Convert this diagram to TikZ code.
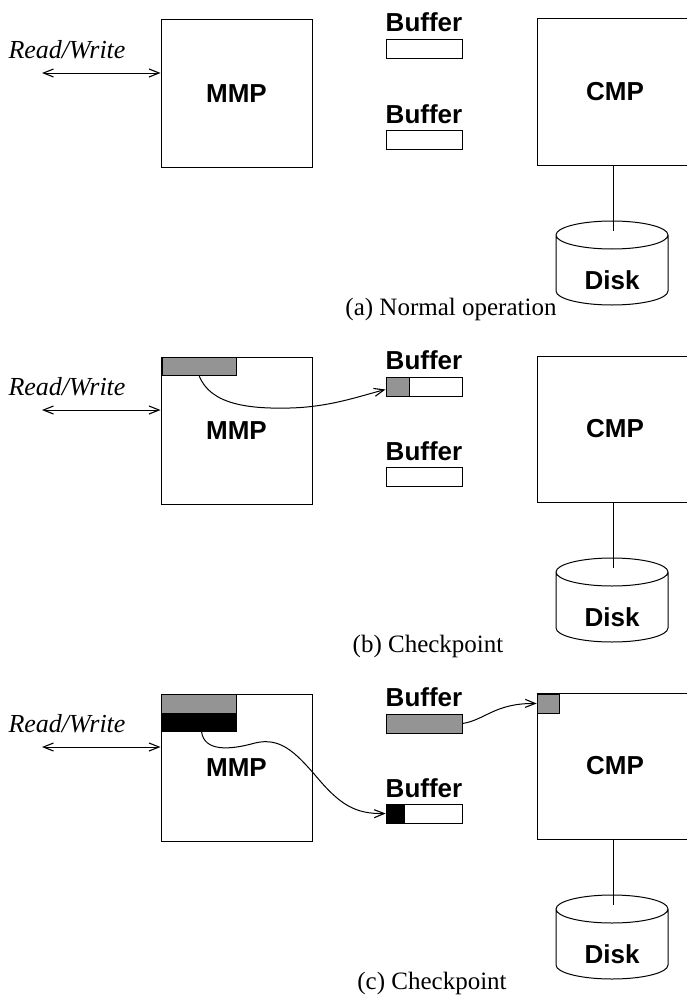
\documentclass[tikz,border=0pt]{standalone}
\usepackage{fontspec}
\setmainfont{Liberation Serif}
\setsansfont{Liberation Sans}
\usetikzlibrary{arrows.meta}
\tikzset{
  boxnode/.style={draw, line width=1pt, inner sep=0pt},
  lbl/.style={font=\sffamily\bfseries\fontsize{26}{30}\selectfont},
  bufbox/.style={draw, line width=1pt, minimum width=76pt, minimum height=19pt, inner sep=0pt},
  shadebox/.style={fill=black!42, draw=black, line width=0.7pt, inner sep=0pt},
  darkbox/.style={fill=black, draw=black, line width=0.7pt, inner sep=0pt},
  barb/.tip={Straight Barb[length=10pt,width=8pt,line width=1.1pt]},
  conn/.style={line width=1pt, -barb},
  rwarrow/.style={line width=1pt, barb-barb},
  captxt/.style={font=\fontsize{25}{29}\selectfont, anchor=base, inner sep=0pt},
  rwtxt/.style={font=\itshape\fontsize{26}{30}\selectfont, inner sep=0pt},
  disk/.style={line width=1pt},
}
\begin{document}
\begin{tikzpicture}[x=1pt,y=-1pt]
\useasboundingbox (0,0) rectangle (686,998);
\foreach \o/\p/\cx/\c in {0/a/451/{(a) Normal operation},337/b/428/{(b) Checkpoint},674/c/432/{(c) Checkpoint}}{
  \node[rwtxt] (rwt\p) at (67,50+\o) {Read/Write};
  \coordinate (rw\p) at (42,73+\o);
  \node[boxnode, lbl, minimum width=151pt, minimum height=147pt] (mmp\p) at (236.5,93.5+\o) {MMP};
  \draw[rwarrow] (rw\p) -- (rw\p -| mmp\p.west);
  \node[lbl, anchor=base, inner sep=0pt] (bl1\p) at (424,32+\o) {Buffer};
  \node[bufbox] (buf1\p) at (424,49.5+\o) {};
  \node[lbl, anchor=base, inner sep=0pt] (bl2\p) at (424,123+\o) {Buffer};
  \node[bufbox] (buf2\p) at (424,139.5+\o) {};
  \node[boxnode, lbl, minimum width=156pt, minimum height=146pt] (cmp\p) at (615,92+\o) {CMP};
  \coordinate (dtop\p) at (613,231+\o);
  \draw[line width=0.9pt] (cmp\p.south -| dtop\p) -- (dtop\p);
  \draw[disk] (556,235+\o) -- (556,291+\o) arc[start angle=180,end angle=360,x radius=56pt,y radius=14pt]
     -- (668,235+\o) arc[start angle=0,end angle=360,x radius=56pt,y radius=14pt];
  \node[lbl, inner sep=0pt] (disk\p) at (612,280+\o) {Disk};
  \node[captxt] (cap\p) at (\cx,315+\o) {\c};
}
% panel (b)
\node[shadebox, minimum width=74pt, minimum height=18pt] (mshb) at (199,366) {};
\node[shadebox, minimum width=23pt, minimum height=19pt] (bshb) at (397.5,386.5) {};
\draw[conn] (mshb.south) .. controls (210,405) and (250,409) .. (290,408)
   .. controls (330,407) and (360,396) .. ([yshift=-3pt]buf1b.west);
% panel (c)
\node[shadebox, minimum width=75pt, minimum height=19pt] (mshc) at (198.5,703.5) {};
\node[darkbox, minimum width=75pt, minimum height=18pt] (mdkc) at (198.5,722) {};
\node[bufbox, fill=black!42] (bshc) at (424,723.5) {};
\node[darkbox, minimum width=18pt, minimum height=19pt] (bdkc) at (395,813.5) {};
\node[shadebox, minimum width=22pt, minimum height=19pt] (cshc) at (548,703.5) {};
\draw[conn] ([xshift=3pt]mdkc.south) .. controls (204,752) and (230,750) .. (255,743)
   .. controls (280,737) and (295,752) .. (315,775)
   .. controls (340,805) and (355,814) .. (bdkc.west);
\draw[conn] (bshc.east) .. controls (485,720) and (495,703) .. (cshc.west);
\end{tikzpicture}
\end{document}
